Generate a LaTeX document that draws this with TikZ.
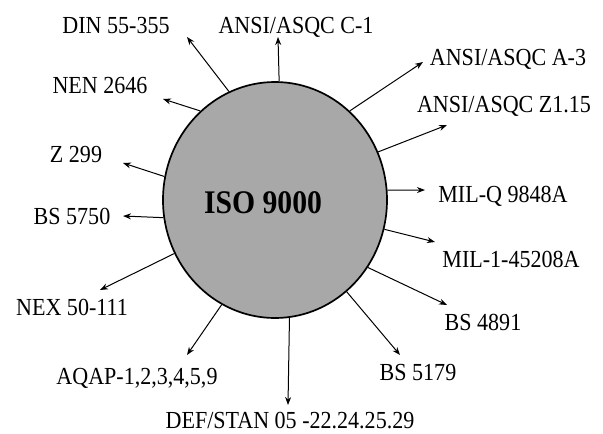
\documentclass[tikz,border=0pt]{standalone}
\usepackage{fontspec}
\setmainfont{Liberation Serif}[FakeStretch=0.9]
\usetikzlibrary{shapes.geometric,arrows.meta}
\begin{document}
\begin{tikzpicture}[x=1pt,y=-1pt,
  lbl/.style={anchor=base,inner sep=0pt,font=\fontsize{24.5}{26}\selectfont},
  arr/.style={-{Stealth[length=8pt,width=6pt]},line width=1pt},
  hub/.style={ellipse,draw=black,line width=1.7pt,fill=black!34,minimum width=224pt,minimum height=236pt,inner sep=0pt}]
\useasboundingbox (0,0) rectangle (603,434);
\node[hub] (iso) at (275,200) {};
\node[inner sep=0pt,font=\fontsize{33}{35}\selectfont\bfseries] (isot) at (263,203) {ISO 9000};
% labels
\node[lbl] (din) at (116,33) {DIN 55-355};
\node[lbl] (c1) at (296,33) {ANSI/ASQC C-1};
\node[lbl] (a3) at (508,65) {ANSI/ASQC A-3};
\node[lbl] (z115) at (504,112) {ANSI/ASQC Z1.15};
\node[lbl] (milq) at (503,202) {MIL-Q 9848A};
\node[lbl] (mil1) at (511,267) {MIL-1-45208A};
\node[lbl] (bs4891) at (483,330) {BS 4891};
\node[lbl] (bs5179) at (418,380) {BS 5179};
\node[lbl] (def) at (290,428) {DEF/STAN 05 -22.24.25.29};
\node[lbl] (aqap) at (137,384) {AQAP-1,2,3,4,5,9};
\node[lbl] (nex) at (72,315) {NEX 50-111};
\node[lbl] (bs5750) at (72,224) {BS 5750};
\node[lbl] (z299) at (76,162) {Z 299};
\node[lbl] (nen) at (100,93) {NEN 2646};
% arrow tips
\coordinate (tdin) at (187,37);
\coordinate (tc1) at (278,37);
\coordinate (ta3) at (423,62);
\coordinate (tz115) at (447,125);
\coordinate (tmilq) at (425,190);
\coordinate (tmil1) at (435,242);
\coordinate (tbs4891) at (447,305);
\coordinate (tbs5179) at (400,355);
\coordinate (tdef) at (288,405);
\coordinate (taqap) at (187,355);
\coordinate (tnex) at (100,290);
\coordinate (tbs5750) at (123,216);
\coordinate (tz299) at (123,163);
\coordinate (tnen) at (163,99);
% arrows
\draw[arr] (iso.113.5) -- (tdin);
\draw[arr] (iso.88.5) -- (tc1);
\draw[arr] (iso.50.8) -- (ta3);
\draw[arr] (iso.25) -- (tz115);
\draw[arr] (iso.5) -- (tmilq);
\draw[arr] (iso.-15.5) -- (tmil1);
\draw[arr] (iso.-36) -- (tbs4891);
\draw[arr] (iso.-52.8) -- (tbs5179);
\draw[arr] (iso.-83.7) -- (tdef);
\draw[arr] (iso.-117.8) -- (taqap);
\draw[arr] (iso.-152.5) -- (tnex);
\draw[arr] (iso.-171.5) -- (tbs5750);
\draw[arr] (iso.168.4) -- (tz299);
\draw[arr] (iso.130.8) -- (tnen);
\end{tikzpicture}
\end{document}
